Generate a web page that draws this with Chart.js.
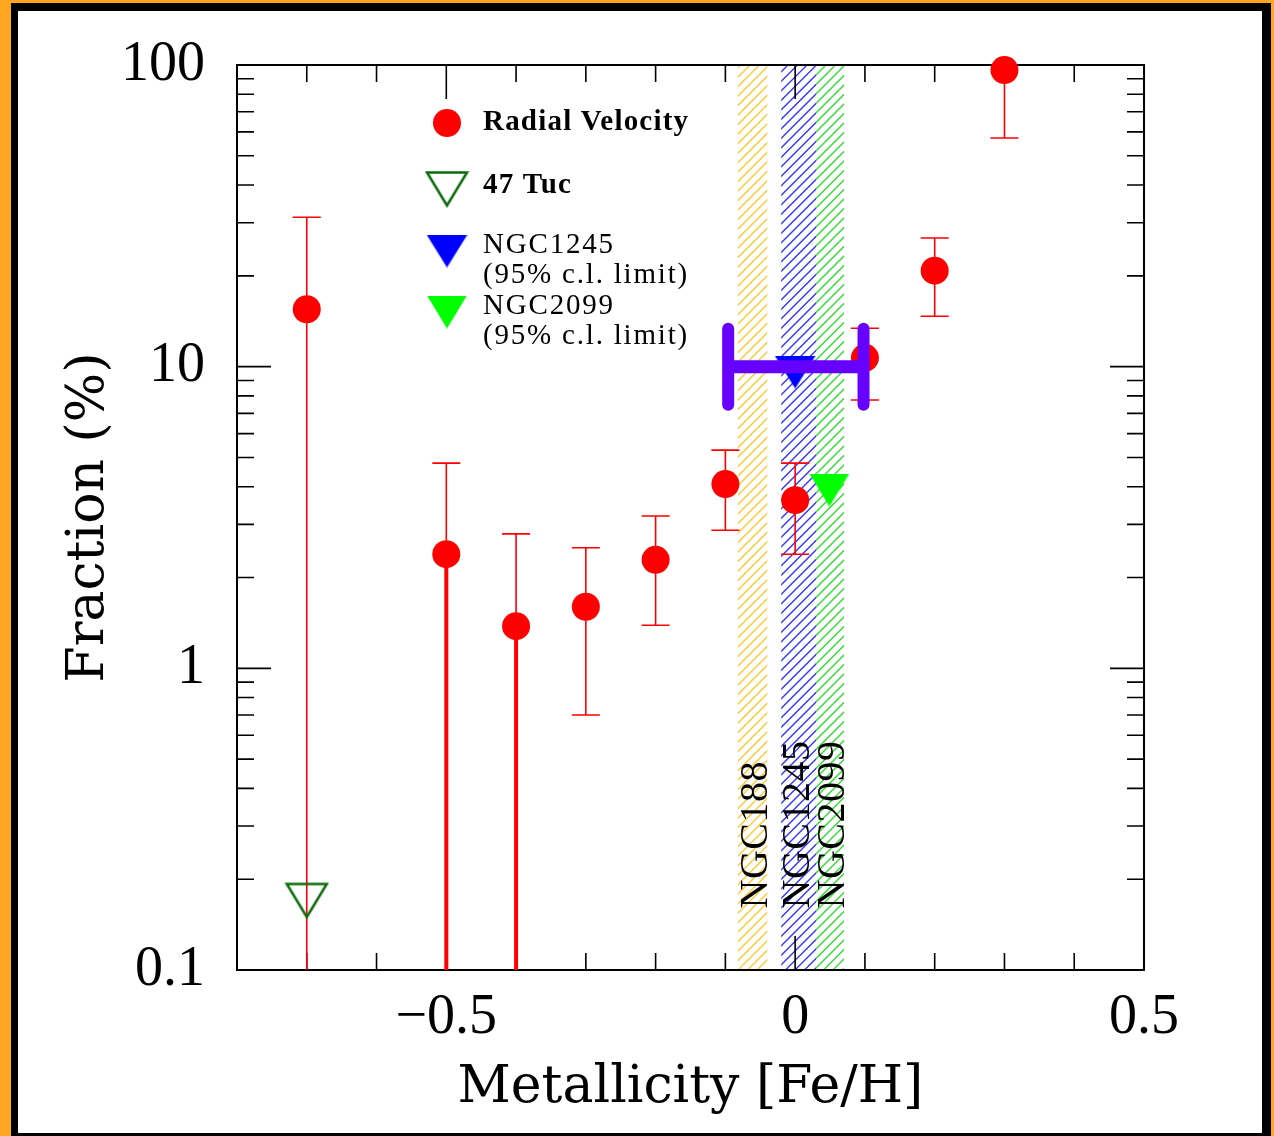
<!DOCTYPE html>
<html>
<head>
<meta charset="utf-8">
<script src="https://cdn.jsdelivr.net/npm/chart.js@4.4.1/dist/chart.umd.min.js"></script>
<style>
  html, body { margin: 0; padding: 0; }
  body { width: 1274px; height: 1136px; background: #ffa51f; position: relative; overflow: hidden; }
  #frame { position: absolute; left: 11px; top: 3px; width: 1260px; height: 1160px; background: #000; }
  #paper { position: absolute; left: 18px; top: 11px; width: 1244px; height: 1122px; background: #fff; }
  #chart { position: absolute; left: 0; top: 0; }
</style>
</head>
<body>
<div id="frame"></div>
<div id="paper"></div>
<canvas id="chart" width="1274" height="1136"></canvas>
<script>
// binary fraction from radial velocity surveys, per metallicity bin
const rvMetallicity = [-0.7, -0.5, -0.4, -0.3, -0.2, -0.1, 0.0, 0.1, 0.2, 0.3];
const rvFraction    = [15.5, 2.39, 1.38, 1.60, 2.29, 4.08, 3.61, 10.7, 20.8, 96.2];
const rvErrHigh     = [31.3, 4.79, 2.79, 2.51, 3.20, 5.29, 4.79, 13.4, 26.7, 150];
const rvErrLow      = [0.01, 0.01, 0.01, 0.70, 1.39, 2.87, 2.39, 7.75, 14.7, 57.3];

// cluster limits
const tucPoint = [{ x: -0.7, y: 0.17 }];
const ngc1245Limit = [{ x: 0.0, y: 9.6 }];
const ngc2099Limit = [{ x: 0.049, y: 3.9 }];

// metallicity range bar
const rangeMetallicity = [-0.096, 0.098];
const rangeFraction = 10;

// cluster metallicity bands
const clusterNames = ["NGC188", "NGC1245", "NGC2099"];
const clusterLow = [-0.082, -0.020, 0.030];
const clusterHigh = [-0.040, 0.030, 0.070];
const clusterLabelX = [-0.040, 0.020, 0.070];
const clusterLabelY = 0.16;

// axis ticks
const xTickLabels = [-0.5, 0, 0.5];
const xMinorTicks = [-0.7, -0.6, -0.4, -0.3, -0.2, -0.1, 0.1, 0.2, 0.3, 0.4];
const yTickLabels = [0.1, 1, 10, 100];
const yMinorTicks = [0.2, 0.3, 0.4, 0.5, 0.6, 0.7, 0.8, 0.9,
                     2, 3, 4, 5, 6, 7, 8, 9,
                     20, 30, 40, 50, 60, 70, 80, 90];

// styles
const hatchColors = ["#ffc933", "#3434ff", "#33dd33"];
const lowerBarWidth = [1.6, 4, 4, 1.6, 1.6, 1.6, 1.6, 1.6, 1.6, 1.6];

function triangleMarker(w, h, fill, stroke, lw) {
  const c = document.createElement("canvas");
  c.width = w + lw * 2;
  c.height = h + lw * 2;
  const g = c.getContext("2d");
  g.beginPath();
  g.moveTo(lw, lw);
  g.lineTo(lw + w, lw);
  g.lineTo(lw + w / 2, lw + h);
  g.closePath();
  if (fill) { g.fillStyle = fill; g.fill(); }
  if (stroke) { g.strokeStyle = stroke; g.lineWidth = lw; g.stroke(); }
  return c;
}

const tucMarker = triangleMarker(40, 33, null, "#0b6b0b", 2.5);
const blueMarker = triangleMarker(41, 33, "#0000ff", null, 0);
const greenMarker = triangleMarker(40, 33, "#00ff00", null, 0);

const decorations = {
  id: "decorations",
  beforeDatasetsDraw(chart) {
    const { ctx, chartArea: a, scales: { x, y } } = chart;
    const h = a.bottom - a.top;

    // hatched bands
    clusterNames.forEach((name, i) => {
      const x0 = x.getPixelForValue(clusterLow[i]);
      const x1 = x.getPixelForValue(clusterHigh[i]);
      ctx.save();
      ctx.beginPath();
      ctx.rect(x0, a.top, x1 - x0, h);
      ctx.clip();
      ctx.strokeStyle = hatchColors[i];
      ctx.lineWidth = 1.3;
      ctx.beginPath();
      for (let s = a.left - h; s < a.right; s += 9.5) {
        ctx.moveTo(s, a.bottom);
        ctx.lineTo(s + h, a.top);
      }
      ctx.stroke();
      ctx.restore();
    });

    // band labels, reading upwards
    ctx.save();
    ctx.fillStyle = "#000";
    ctx.font = '40px "Liberation Serif"';
    ctx.textAlign = "left";
    ctx.textBaseline = "alphabetic";
    ctx.letterSpacing = "0.5px";
    clusterNames.forEach((name, i) => {
      ctx.save();
      ctx.translate(x.getPixelForValue(clusterLabelX[i]), y.getPixelForValue(clusterLabelY));
      ctx.rotate(-Math.PI / 2);
      ctx.fillText(name, 0, 0);
      ctx.restore();
    });
    ctx.restore();

    // frame and inward ticks on all sides
    ctx.save();
    ctx.strokeStyle = "#000";
    ctx.lineWidth = 2;
    ctx.strokeRect(a.left, a.top, a.right - a.left, h);
    ctx.lineWidth = 1.6;
    ctx.beginPath();
    const xTick = (v, len) => {
      const px = x.getPixelForValue(v);
      ctx.moveTo(px, a.top); ctx.lineTo(px, a.top + len);
      ctx.moveTo(px, a.bottom); ctx.lineTo(px, a.bottom - len);
    };
    const yTick = (v, len) => {
      const py = y.getPixelForValue(v);
      ctx.moveTo(a.left, py); ctx.lineTo(a.left + len, py);
      ctx.moveTo(a.right, py); ctx.lineTo(a.right - len, py);
    };
    xMinorTicks.forEach(v => xTick(v, 17));
    xTickLabels.forEach(v => xTick(v, 34));
    yMinorTicks.forEach(v => yTick(v, 17));
    yTickLabels.forEach(v => yTick(v, 34));
    ctx.stroke();
    ctx.restore();

    // error bars
    ctx.save();
    ctx.beginPath();
    ctx.rect(a.left, a.top, a.right - a.left, h);
    ctx.clip();
    ctx.strokeStyle = "#ff0000";
    rvMetallicity.forEach((m, i) => {
      const px = x.getPixelForValue(m);
      const pc = y.getPixelForValue(rvFraction[i]);
      const ph = y.getPixelForValue(rvErrHigh[i]);
      const pl = y.getPixelForValue(rvErrLow[i]);
      ctx.lineWidth = 1.6;
      ctx.beginPath();
      ctx.moveTo(px, pc); ctx.lineTo(px, ph);
      ctx.moveTo(px - 14, ph); ctx.lineTo(px + 14, ph);
      ctx.moveTo(px - 14, pl); ctx.lineTo(px + 14, pl);
      ctx.stroke();
      ctx.lineWidth = lowerBarWidth[i];
      ctx.beginPath();
      ctx.moveTo(px, pc); ctx.lineTo(px, pl);
      ctx.stroke();
    });
    ctx.restore();
  },
  afterDatasetsDraw(chart) {
    const { ctx, chartArea: a, scales: { x, y } } = chart;

    // metallicity range bar
    const xl = x.getPixelForValue(rangeMetallicity[0]);
    const xr = x.getPixelForValue(rangeMetallicity[1]);
    const yc = y.getPixelForValue(rangeFraction);
    ctx.save();
    ctx.strokeStyle = "#6600ff";
    ctx.lineWidth = 13;
    ctx.beginPath();
    ctx.moveTo(xl, yc); ctx.lineTo(xr, yc);
    ctx.stroke();
    ctx.lineWidth = 12;
    ctx.lineCap = "round";
    ctx.beginPath();
    ctx.moveTo(xl, yc - 38); ctx.lineTo(xl, yc + 38);
    ctx.moveTo(xr, yc - 38); ctx.lineTo(xr, yc + 38);
    ctx.stroke();
    ctx.restore();

    // legend
    const lx = a.left + 210;
    const tx = a.left + 246;
    ctx.save();
    ctx.fillStyle = "#ff0000";
    ctx.beginPath();
    ctx.arc(lx, a.top + 58, 14, 0, Math.PI * 2);
    ctx.fill();
    [[tucMarker, 124], [blueMarker, 186], [greenMarker, 247]].forEach(([img, dy]) => {
      ctx.drawImage(img, lx - img.width / 2, a.top + dy - img.height / 2);
    });
    ctx.fillStyle = "#000";
    ctx.textAlign = "left";
    ctx.textBaseline = "middle";
    ctx.font = 'bold 29px "Liberation Serif"';
    ctx.letterSpacing = "1.2px";
    ctx.fillText("Radial Velocity", tx, a.top + 58);
    ctx.fillText("47 Tuc", tx, a.top + 121);
    ctx.font = '29px "Liberation Serif"';
    ctx.letterSpacing = "1.8px";
    ctx.fillText("NGC1245", tx, a.top + 180);
    ctx.fillText("(95% c.l. limit)", tx, a.top + 210);
    ctx.fillText("NGC2099", tx, a.top + 241);
    ctx.fillText("(95% c.l. limit)", tx, a.top + 271);
    ctx.restore();
  }
};

const tickFont = { family: "Liberation Serif", size: 56 };
const titleFont = { family: "DejaVu Serif", size: 52, lineHeight: 1.2 };

new Chart(document.getElementById("chart"), {
  type: "scatter",
  data: {
    datasets: [
      { label: "47 Tuc", data: tucPoint, pointStyle: tucMarker, borderWidth: 0, clip: false },
      { label: "NGC1245", data: ngc1245Limit, pointStyle: blueMarker, borderWidth: 0, clip: false },
      { label: "NGC2099", data: ngc2099Limit, pointStyle: greenMarker, borderWidth: 0, clip: false },
      {
        label: "Radial Velocity",
        data: rvMetallicity.map((m, i) => ({ x: m, y: rvFraction[i] })),
        pointRadius: 14,
        pointHoverRadius: 14,
        backgroundColor: "#ff0000",
        borderWidth: 0,
        clip: false
      }
    ]
  },
  options: {
    responsive: false,
    animation: false,
    devicePixelRatio: 1,
    events: [],
    layout: { padding: { top: 65, right: 130, bottom: 0, left: 0 } },
    plugins: { legend: { display: false }, tooltip: { enabled: false } },
    scales: {
      x: {
        type: "linear",
        min: -0.8,
        max: 0.5,
        grid: { display: false, drawTicks: false },
        border: { display: false },
        afterBuildTicks: s => { s.ticks = xTickLabels.map(v => ({ value: v })); },
        afterFit: s => { s.height = 166; s.paddingLeft = 0; s.paddingRight = 0; },
        ticks: {
          padding: 15,
          color: "#000",
          font: tickFont,
          maxRotation: 0,
          autoSkip: false,
          callback: v => (v < 0 ? "\u2212" + Math.abs(v) : String(v))
        },
        title: {
          display: true,
          text: "Metallicity [Fe/H]",
          color: "#000",
          font: titleFont,
          padding: { top: 0, bottom: 16 }
        }
      },
      y: {
        type: "logarithmic",
        min: 0.1,
        max: 100,
        grid: { display: false, drawTicks: false },
        border: { display: false },
        afterBuildTicks: s => { s.ticks = yTickLabels.map(v => ({ value: v })); },
        afterFit: s => { s.width = 237; s.paddingTop = 0; s.paddingBottom = 0; },
        ticks: {
          padding: 32,
          color: "#000",
          font: tickFont,
          autoSkip: false,
          callback: v => String(v)
        },
        title: {
          display: true,
          text: "Fraction (%)",
          color: "#000",
          font: titleFont,
          padding: { top: 58, bottom: 0 }
        }
      }
    }
  },
  plugins: [decorations]
});
</script>
</body>
</html>
